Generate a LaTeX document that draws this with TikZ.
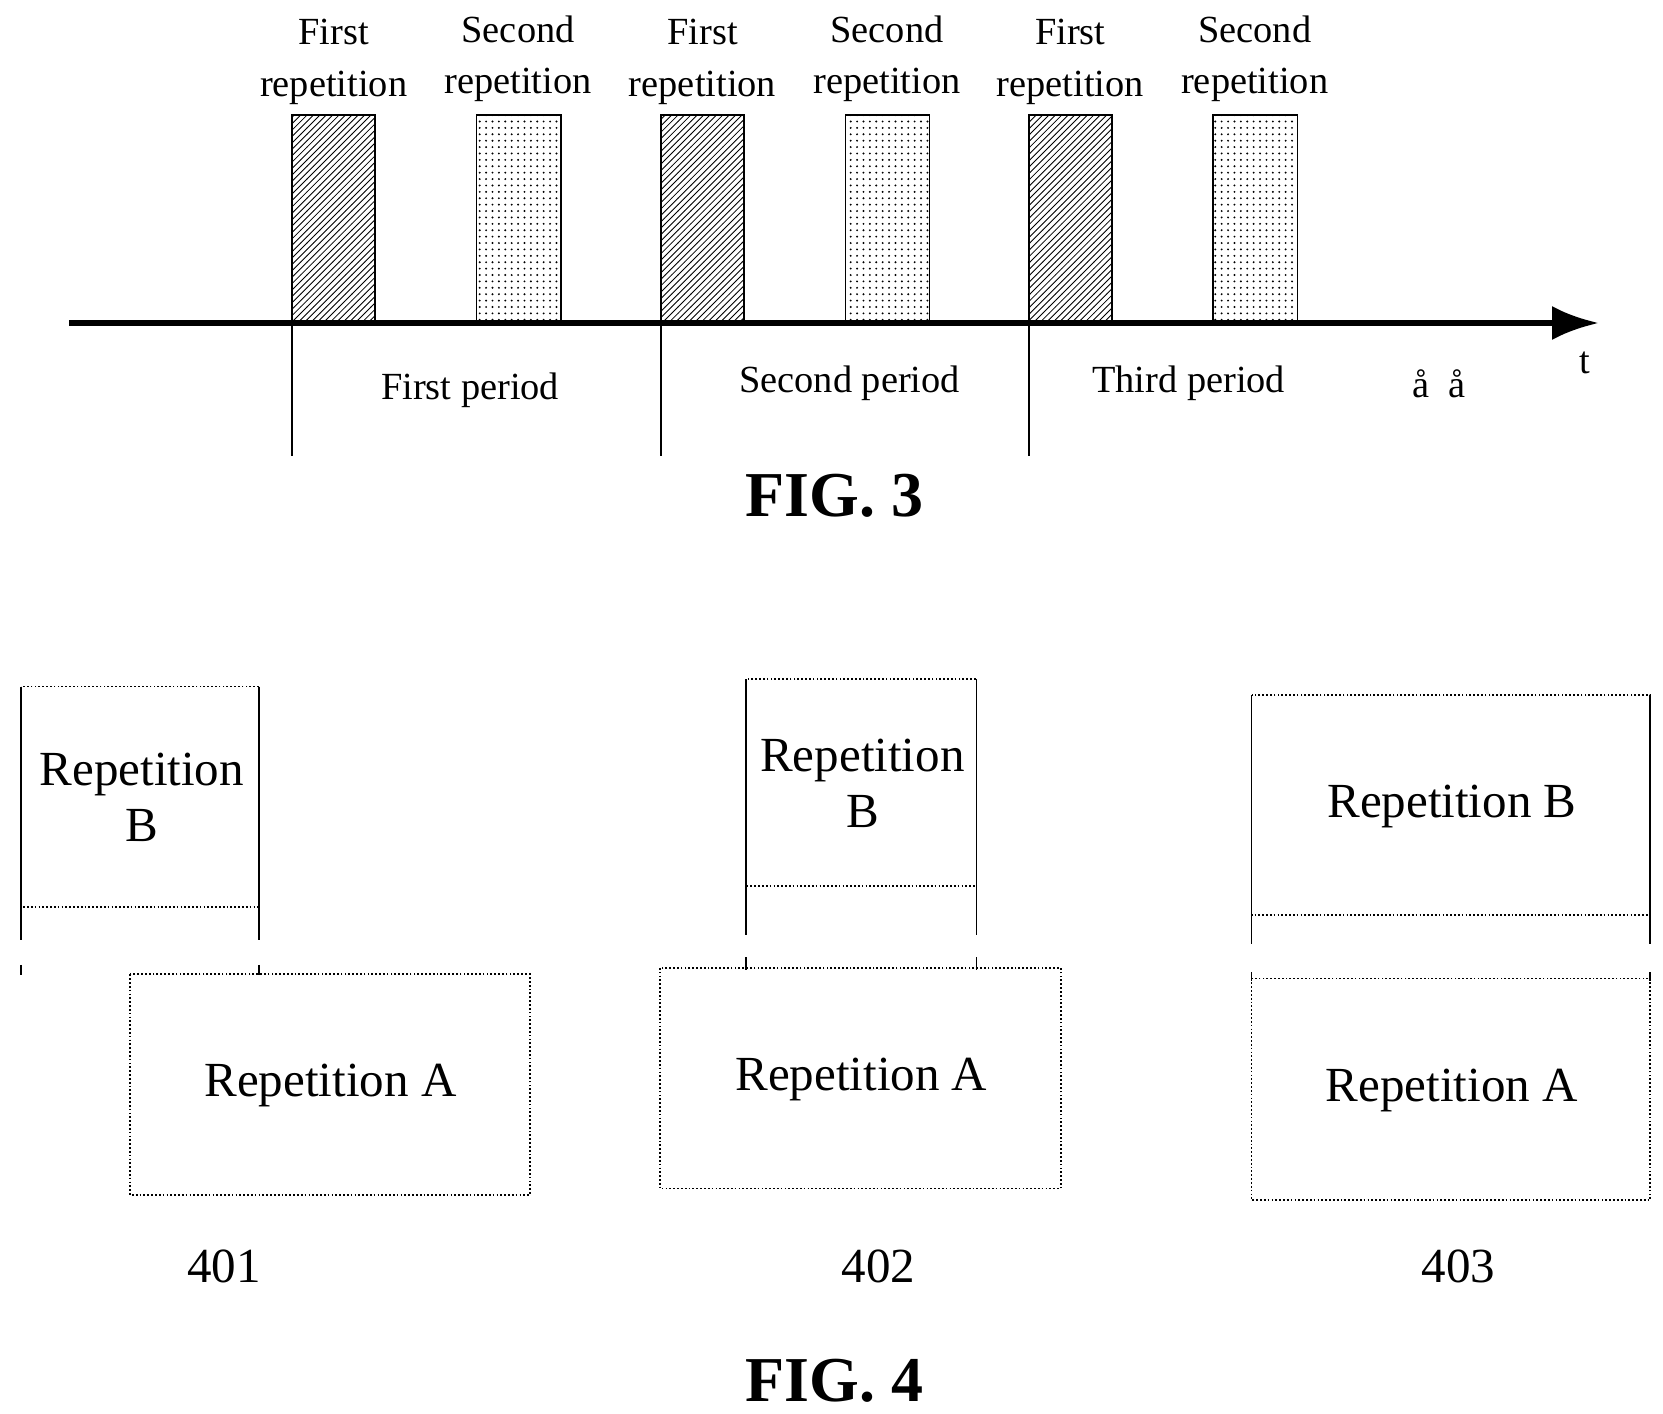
\documentclass[tikz,border=0pt]{standalone}
\usepackage{fontspec}
\setmainfont{Liberation Serif}
\usetikzlibrary{patterns,arrows.meta}
\tikzset{>=latex}
\tikzset{
  lbl/.style={align=center, font=\fontsize{18}{22}\selectfont, inner sep=0pt},
  big/.style={align=center, font=\fontsize{23}{26}\selectfont, inner sep=0pt},
  fig/.style={font=\fontsize{30}{34}\selectfont\bfseries, inner sep=0pt},
  hatched/.style={draw, thick, pattern=north east lines},
  dotty/.style={draw, thick, pattern=dots},
  dbox/.style={draw, thick, densely dotted},
}
\begin{document}
\begin{tikzpicture}[x=0.5pt, y=-0.5pt]
    \useasboundingbox (0,0) rectangle (1560,1326);

    % time axis
    \coordinate (ax0) at (65,303);
    \coordinate (ax1) at (1500,303);
    \draw[line width=3pt, -{Latex[length=22pt,width=16pt]}] (ax0) -- (ax1);
    \node[lbl] (t) at (1487,340) {t};

    % repetitions in each period
    \foreach \x/\n in {274/1, 620/2, 965/3}{
        \draw[hatched] (\x,108) rectangle (\x+78,303);
        \draw[dotty] (\x+173,108) rectangle (\x+252,303);
        \node[lbl] (fr\n) at (\x+39,58) {First\\[2pt]repetition};
        \node[lbl] (sr\n) at (\x+212,55) {Second\\[2pt]repetition};
        \draw[thick] (\x,303) -- (\x,428);
    }

    \node[lbl] (p1) at (441,366) {First period};
    \node[lbl] (p2) at (797,360) {Second period};
    \node[lbl] (p3) at (1115,360) {Third period};
    \node[lbl] (dots) at (1350,360) {å\ \ å};
    \node[fig] (fig3) at (783,465) {FIG. 3};

    % 401
    \draw[dbox] (20,644) rectangle (243,851);
    \draw[thick] (20,644) -- (20,882) (243,644) -- (243,882);
    \draw[thick] (20,905) -- (20,915) (243,905) -- (243,915);
    \draw[dbox] (122,914) rectangle (497,1121);
    \node[big] (b401) at (133,748) {Repetition\\B};
    \node[big] (a401) at (310,1018) {Repetition A};
    \node[big] (n401) at (210,1188) {401};

    % 402
    \draw[dbox] (700,637) rectangle (916,831);
    \draw[thick] (700,637) -- (700,877) (916,637) -- (916,877);
    \draw[thick] (700,898) -- (700,910) (916,898) -- (916,910);
    \draw[dbox] (619,908) rectangle (995,1115);
    \node[big] (b402) at (809,735) {Repetition\\B};
    \node[big] (a402) at (808,1013) {Repetition A};
    \node[big] (n402) at (824,1188) {402};

    % 403
    \draw[dbox] (1174,652) rectangle (1548,858);
    \draw[thick] (1174,652) -- (1174,886) (1548,652) -- (1548,886);
    \draw[thick] (1174,912) -- (1174,920) (1548,912) -- (1548,920);
    \draw[dbox] (1174,918) rectangle (1548,1126);
    \node[big] (b403) at (1362,757) {Repetition B};
    \node[big] (a403) at (1362,1023) {Repetition A};
    \node[big] (n403) at (1368,1188) {403};

    \node[fig] (fig4) at (783,1295) {FIG. 4};
\end{tikzpicture}
\end{document}
